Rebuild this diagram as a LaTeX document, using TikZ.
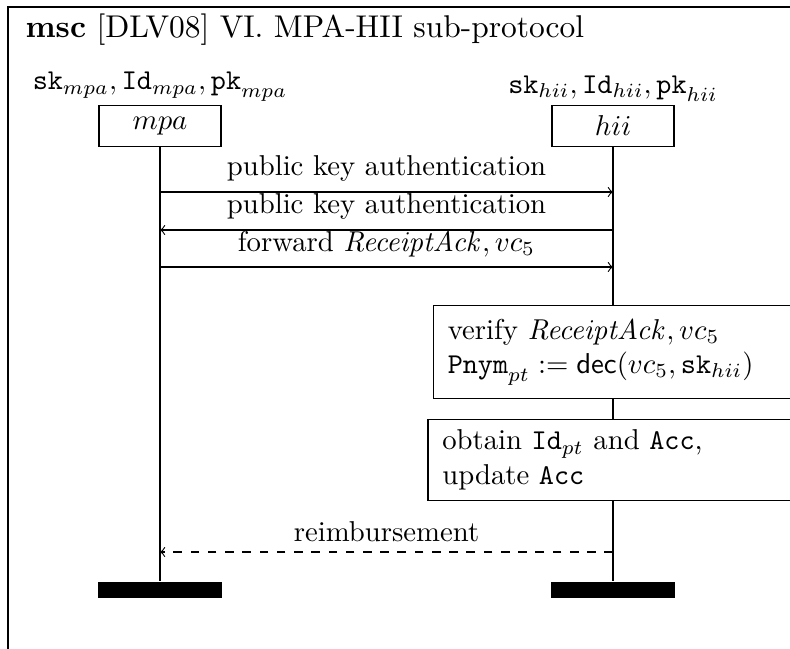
\documentclass[tikz,border=0pt]{standalone}
\begin{document}
\begin{tikzpicture}[
  x=0.348pt, y=-0.348pt,
  inst/.style={draw, minimum width=42.5pt, minimum height=14.3pt, inner sep=0pt},
  action/.style={draw, align=left, inner xsep=5pt, inner ysep=0pt},
  bar/.style={fill=black, minimum width=43.2pt, minimum height=5.9pt, inner sep=0pt},
  msg/.style={->}
]
\useasboundingbox (0,0) rectangle (790,648);
\draw (8,7) rectangle (830,720);
\node [anchor=base west, inner sep=0pt, font=\fontsize{10.95}{13}\selectfont] (title) at (25,37) {\textbf{msc} [DLV08] VI. MPA-HII sub-protocol};

% instances
\node [inst] (mpa) at (160,126) {$mpa$};
\node [inst] (hii) at (613,126) {$hii$};
\node [above, inner sep=1pt] (mpalabel) at (mpa.north) {$\mathtt{sk}_{mpa}, \mathtt{Id}_{mpa}, \mathtt{pk}_{mpa}$};
\node [above, inner sep=1pt] (hiilabel) at (hii.north) {$\mathtt{sk}_{hii}, \mathtt{Id}_{hii}, \mathtt{pk}_{hii}$};

% actions of hii
\node [action, text width=115pt, minimum height=32.4pt] (act1) at (613,352) {verify $\mathit{ReceiptAck}, vc_5$\\
  $\mathtt{Pnym}_{pt} := \mathsf{dec}(vc_5, \mathtt{sk}_{hii})$};
\node [action, text width=118.8pt, minimum height=28.2pt] (act2) at (613,460) {obtain $\mathtt{Id}_{pt}$ and $\mathtt{Acc}$,\\
  update $\mathtt{Acc}$};

% ends
\node [bar] (mpaend) at (160,590) {};
\node [bar] (hiiend) at (613,590) {};

% lifelines
\draw (mpa) -- (mpaend);
\draw (hii) -- (act1);
\draw (act1) -- (act2);
\draw (act2) -- (hiiend);

% messages
\coordinate (m1) at (160,192);
\coordinate (h1) at (613,192);
\coordinate (m2) at (160,230);
\coordinate (h2) at (613,230);
\coordinate (m3) at (160,267);
\coordinate (h3) at (613,267);
\coordinate (m4) at (160,552);
\coordinate (h4) at (613,552);
\draw [msg] (m1) -- node [above] (l1) {public key authentication} (h1);
\draw [msg] (h2) -- node [above] (l2) {public key authentication} (m2);
\draw [msg] (m3) -- node [above] (l3) {forward $\mathit{ReceiptAck}, vc_5$} (h3);
\draw [msg, dashed] (h4) -- node [above] (l4) {reimbursement} (m4);
\end{tikzpicture}
\end{document}
